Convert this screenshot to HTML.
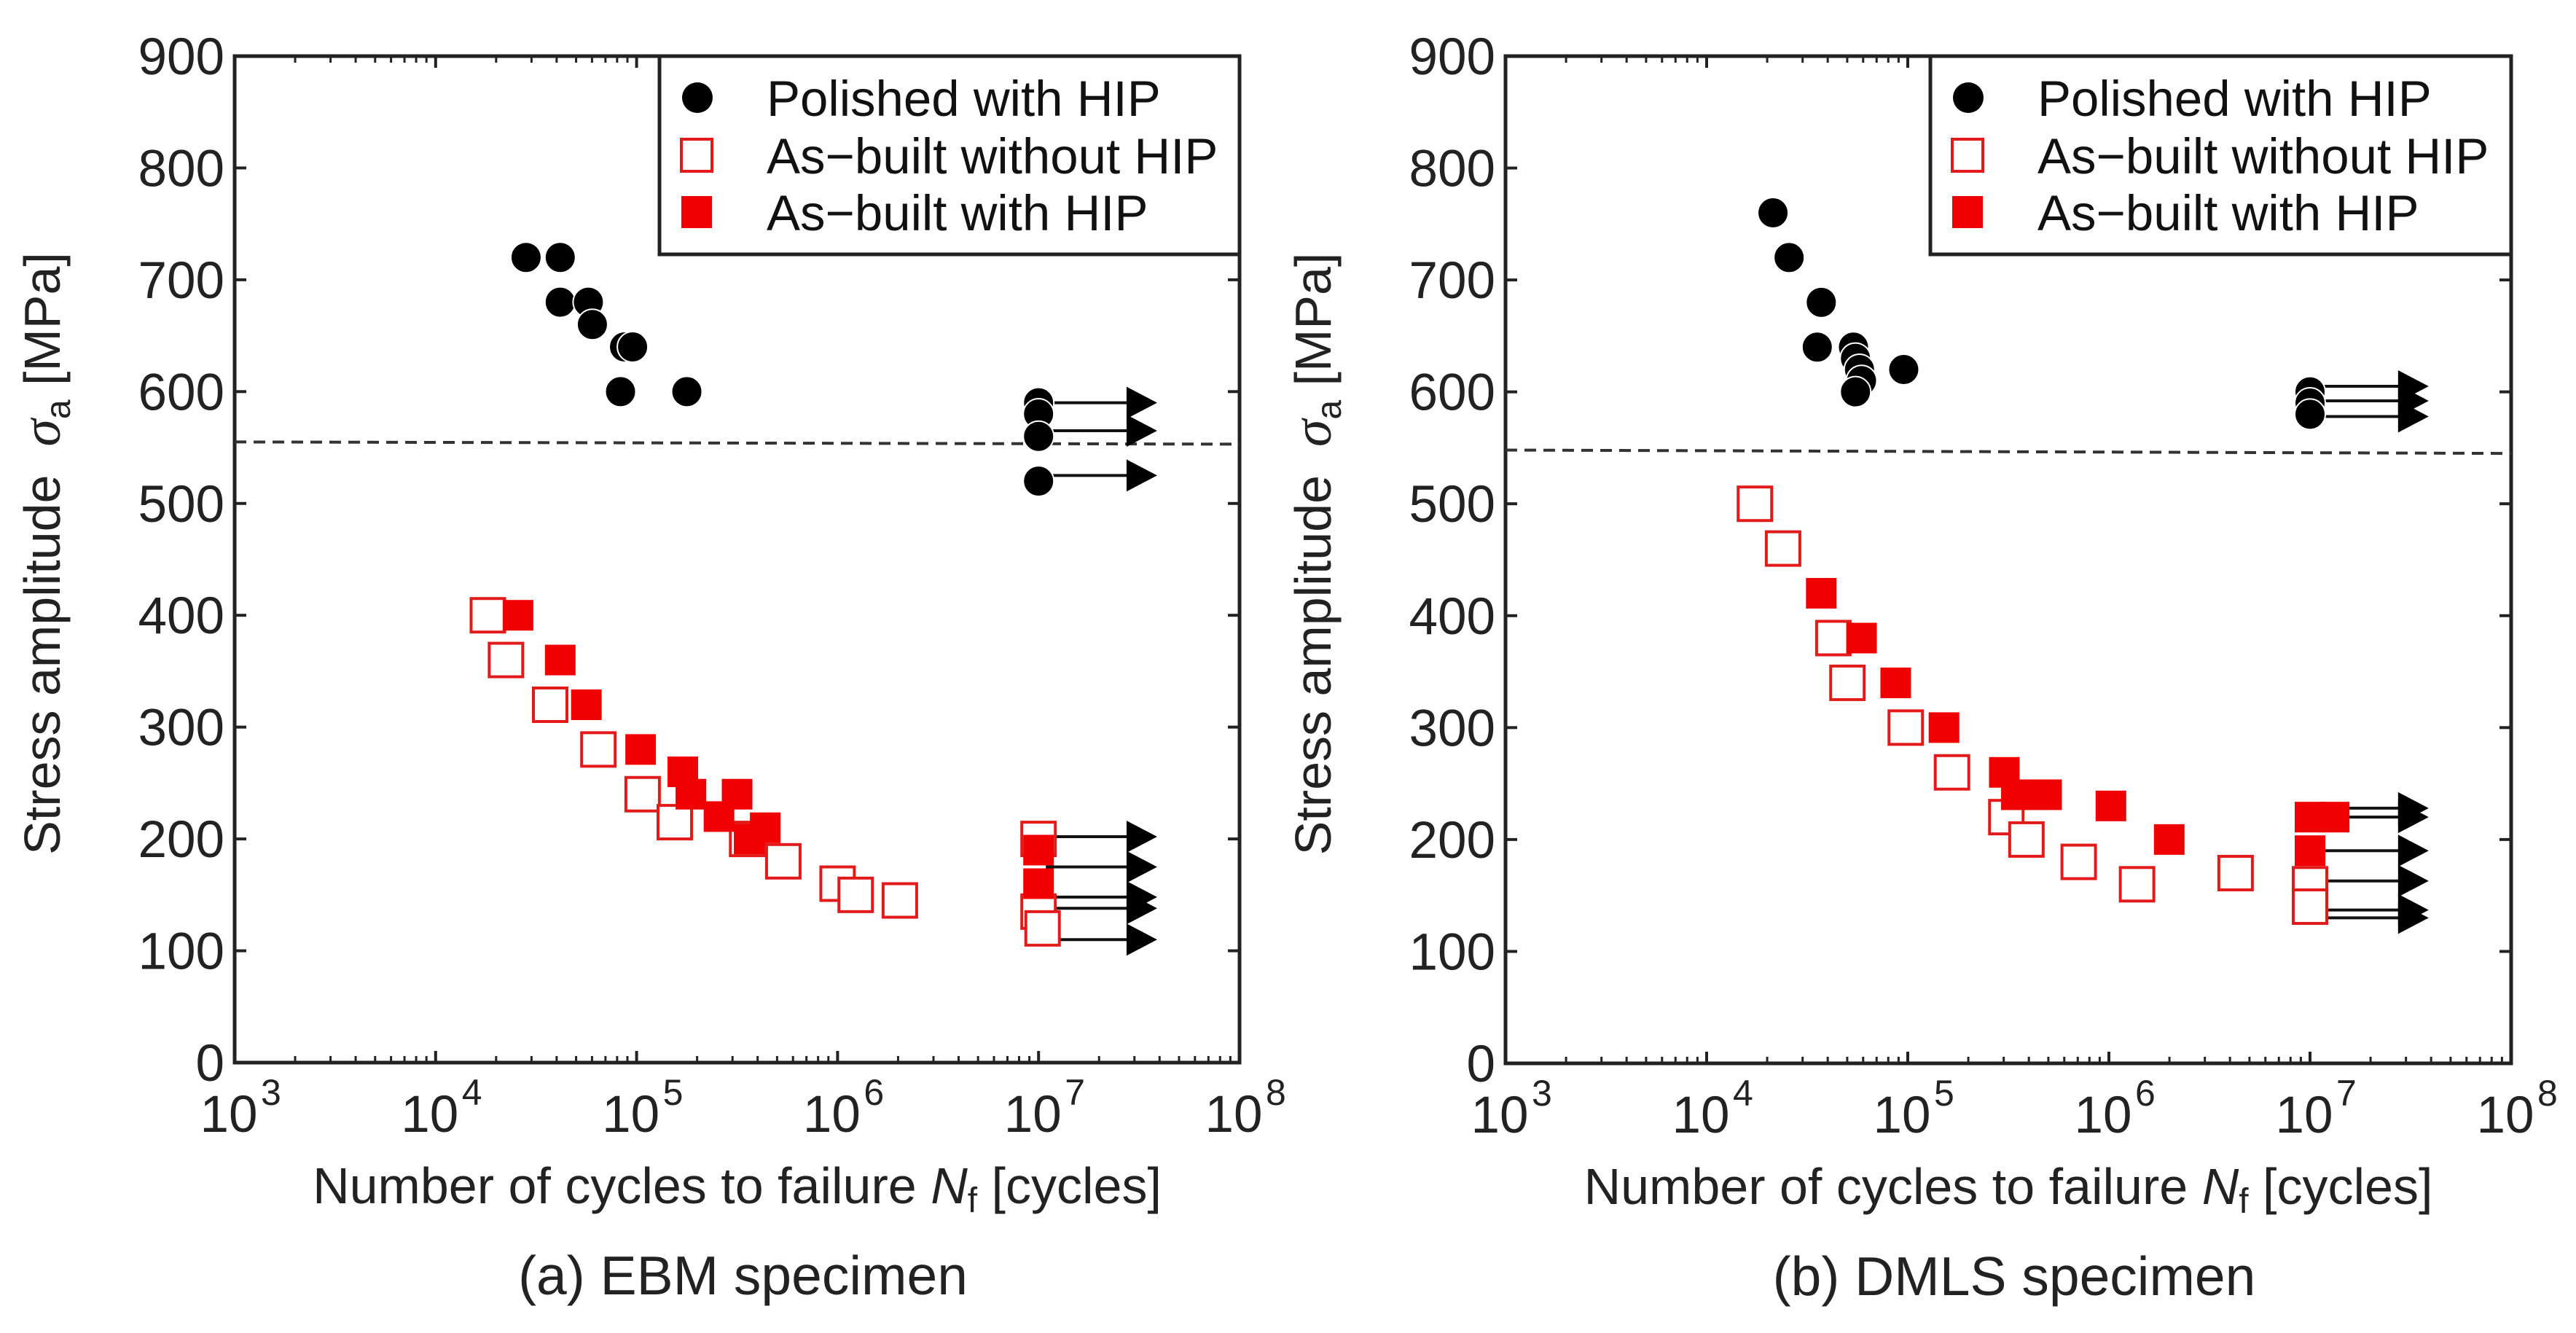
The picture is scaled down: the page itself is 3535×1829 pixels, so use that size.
<!DOCTYPE html>
<html><head><meta charset="utf-8"><style>
html,body{margin:0;padding:0;background:#fff;}
svg{display:block;font-family:"Liberation Sans",sans-serif;}
</style></head><body>
<svg id="fig" width="3535" height="1829" viewBox="0 0 3535 1829" xmlns="http://www.w3.org/2000/svg"></svg>
<script>
// ---- Panel (a) EBM data (x as log10 cycles, y in MPa) ----
const aPolX = [4.45,4.62,4.62,4.76,4.78,4.94,4.98,4.92,5.25,7,7,7,7];
const aPolY = [720,720,680,680,660,640,640,600,600,590,580,560,520];
const aOpenX = [4.26,4.35,4.57,4.81,5.03,5.19,5.55,5.73,6.0,6.09,6.31,7,7,7.02];
const aOpenY = [400,360,320,280,240,215,200,180,160,150,145,200,135,120];
const aFillX = [4.41,4.62,4.75,5.02,5.23,5.27,5.41,5.50,5.56,5.64,7,7];
const aFillY = [400,360,320,280,260,240,220,240,200,210,190,160];
const aArrowY = [590,565,525,202,175,148,138,110];
const aDash = [555,553];
// ---- Panel (b) DMLS data ----
const bPolX = [4.33,4.41,4.57,4.55,4.73,4.74,4.76,4.77,4.74,4.98,7,7,7];
const bPolY = [760,720,680,640,640,630,620,610,600,620,600,590,580];
const bOpenX = [4.24,4.38,4.63,4.70,4.99,5.22,5.49,5.59,5.85,6.14,6.63,7,7];
const bOpenY = [500,460,380,340,300,260,220,200,180,160,170,160,140];
const bFillX = [4.57,4.77,4.94,5.18,5.48,5.54,5.69,6.01,6.30,7,7,7.12];
const bFillY = [420,380,340,300,260,240,240,230,200,220,190,220];
const bArrowY = [605,592,578,228,220,190,163,137,130];
const bDash = [548,545];
const yTicks = [0,100,200,300,400,500,600,700,800,900];
const xDecades = [3,4,5,6,7,8];
const legendLabels = ["Polished with HIP","As\u2212built without HIP","As\u2212built with HIP"];

const NS="http://www.w3.org/2000/svg";
const svg=document.getElementById('fig');
function mk(tag,attrs,parent){const e=document.createElementNS(NS,tag);for(const k in attrs)e.setAttribute(k,attrs[k]);(parent||svg).appendChild(e);return e;}

function panel(id,L,R,T,B,polX,polY,openX,openY,fillX,fillY,arrowY,dash,caption){
  const g=mk('g',{});
  
  
  const X=v=>L+(v-3)/5*(R-L);
  const Y=v=>B-v/900*(B-T);
  const box=mk('rect',{x:L,y:T,width:R-L,height:B-T,fill:'none',stroke:'#222','stroke-width':5},g);
  
  
  yTicks.forEach(t=>{
    mk('line',{x1:L,x2:L+16,y1:Y(t),y2:Y(t),stroke:'#222','stroke-width':4},g);
    mk('line',{x1:R,x2:R-16,y1:Y(t),y2:Y(t),stroke:'#222','stroke-width':4},g);
    const tx=mk('text',{x:L-14,y:Y(t)+25,'text-anchor':'end','font-size':71,fill:'#222'},g);
    tx.textContent=t;
    
    
  });
  xDecades.forEach(d=>{
    mk('line',{x1:X(d),x2:X(d),y1:B,y2:B-16,stroke:'#222','stroke-width':4},g);
    mk('line',{x1:X(d),x2:X(d),y1:T,y2:T+16,stroke:'#222','stroke-width':4},g);
    if(d<8){for(let m=2;m<10;m++){const xx=X(d+Math.log10(m));
      mk('line',{x1:xx,x2:xx,y1:B,y2:B-9,stroke:'#222','stroke-width':3},g);
      mk('line',{x1:xx,x2:xx,y1:T,y2:T+9,stroke:'#222','stroke-width':3},g);}}
    const tx=mk('text',{x:X(d)-8,y:B+95,'text-anchor':'middle','font-size':71,fill:'#222'},g);
    tx.textContent='10';
    
    
    const sp=mk('text',{x:X(d)+36,y:B+58,'font-size':50,fill:'#222'},g);
    sp.textContent=d;
  });
  const dl=mk('line',{x1:L,x2:R,y1:Y(dash[0]),y2:Y(dash[1]),stroke:'#333','stroke-width':4,'stroke-dasharray':'16 10'},g);
  
  
  arrowY.forEach(v=>{
    const x0=X(7)+10,x1=X(7.59);
    const ln=mk('line',{x1:x0,x2:x1-40,y1:Y(v),y2:Y(v),stroke:'#111','stroke-width':4},g);
    
    
    mk('polygon',{points:`${x1-42},${Y(v)-22} ${x1},${Y(v)} ${x1-42},${Y(v)+22}`,fill:'#000'},g);
  });
  openX.forEach((v,i)=>{const s=46;
    const r=mk('rect',{x:X(v)-s/2,y:Y(openY[i])-s/2,width:s,height:s,fill:'#fff',stroke:'#e21a1a','stroke-width':4},g);
    
    });
  fillX.forEach((v,i)=>{const s=42;
    const r=mk('rect',{x:X(v)-s/2,y:Y(fillY[i])-s/2,width:s,height:s,fill:'#f00000'},g);
    
    });
  polX.forEach((v,i)=>{
    const c=mk('circle',{cx:X(v),cy:Y(polY[i]),r:21,fill:'#000',stroke:'#fff','stroke-width':2},g);
    
    });
  const lg=mk('g',{},g);
  
  
  const lx=L+(905-322);
  mk('rect',{x:lx,y:T,width:R-lx,height:272,fill:'#fff',stroke:'#222','stroke-width':5},lg);
  const rows=[134,213,291];
  mk('circle',{cx:lx+52,cy:rows[0],r:21,fill:'#000'},lg);
  mk('rect',{x:lx+30,y:rows[1]-22,width:42,height:44,fill:'#fff',stroke:'#e21a1a','stroke-width':4},lg);
  mk('rect',{x:lx+30,y:rows[2]-22,width:42,height:44,fill:'#f00000'},lg);
  legendLabels.forEach((t,i)=>{
    const tx=mk('text',{x:lx+147,y:rows[i]+25,'font-size':69,fill:'#111'},lg);
    tx.textContent=t;
    
    
  });
  const yt=mk('text',{transform:`translate(${L-240},${(T+B)/2-8}) rotate(-90)`,'text-anchor':'middle','font-size':70,fill:'#222'},g);
  yt.innerHTML='Stress amplitude &#160;<tspan font-family="Liberation Serif" font-style="italic" font-size="76">σ</tspan><tspan font-size="48" dy="14">a</tspan><tspan dy="-14"> [MPa]</tspan>';
  
  
  const xt=mk('text',{x:(L+R)/2,y:B+193,'text-anchor':'middle','font-size':70,fill:'#222'},g);
  xt.innerHTML='Number of cycles to failure <tspan font-style="italic">N</tspan><tspan font-size="48" dy="12">f</tspan><tspan dy="-12"> [cycles]</tspan>';
  
  
  const cp=mk('text',{x:(L+R)/2+8,y:B+318,'text-anchor':'middle','font-size':75,fill:'#222'},g);
  cp.textContent=caption;
  
  
}
panel('ebm',322,1701,77,1458,aPolX,aPolY,aOpenX,aOpenY,aFillX,aFillY,aArrowY,aDash,'(a) EBM specimen');
panel('dmls',2066,3446,77,1459,bPolX,bPolY,bOpenX,bOpenY,bFillX,bFillY,bArrowY,bDash,'(b) DMLS specimen');
</script>
</body></html>
